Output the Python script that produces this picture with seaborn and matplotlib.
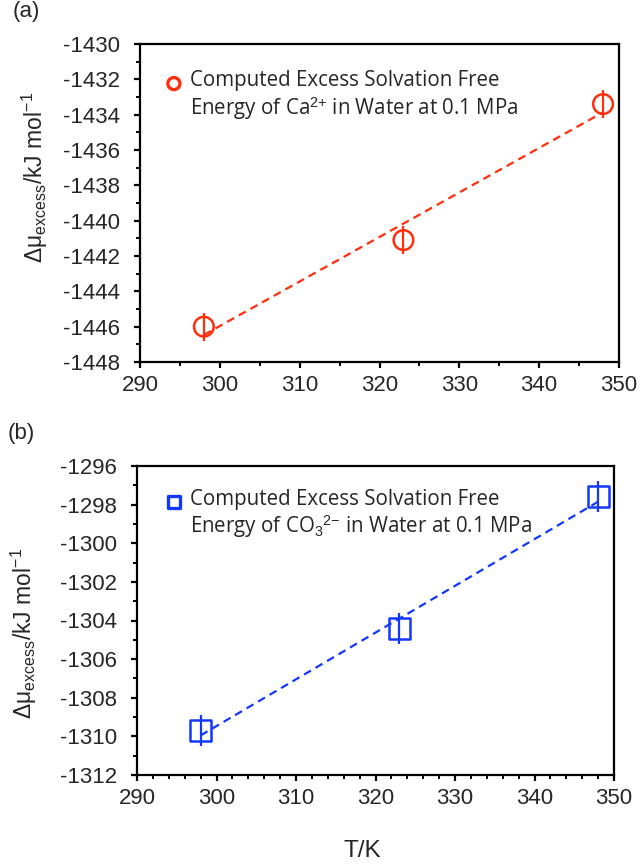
import numpy as np
import pandas as pd
import matplotlib
matplotlib.use("Agg")
import matplotlib.pyplot as plt
import seaborn as sns
from matplotlib.ticker import MultipleLocator
from matplotlib.legend_handler import HandlerPathCollection

# ---- data ----
temps = [298, 323, 348]
ca_mu = [-1446.0, -1441.1, -1433.4]
ca_err = [0.8, 0.8, 0.8]
co3_mu = [-1309.7, -1304.4, -1297.6]
co3_err = [0.8, 0.8, 0.8]

ca_label = "Computed Excess Solvation Free\nEnergy of Ca$^{2{+}}$ in Water at 0.1 MPa"
co3_label = "Computed Excess Solvation Free\nEnergy of CO$_3$$^{2{-}}$ in Water at 0.1 MPa"
ylabel = "\u0394\u03bc$_{\\mathrm{excess}}$/kJ mol$^{\\mathrm{-1}}$"
xlabel = "T/K"

red = "#FF2E0C"
blue = "#1238FF"

sns.set_theme(style="ticks")
plt.rcParams["font.family"] = ["Liberation Sans", "DejaVu Sans"]
plt.rcParams["axes.unicode_minus"] = False
plt.rcParams["mathtext.fontset"] = "custom"
plt.rcParams["mathtext.rm"] = "Liberation Sans"
plt.rcParams["mathtext.it"] = "Liberation Sans"
plt.rcParams["mathtext.bf"] = "Liberation Sans:bold"

fig = plt.figure(figsize=(6.41, 8.65), dpi=100)
ax1 = fig.add_axes([140/641, 1-362/865, 479/641, 318/865])
ax2 = fig.add_axes([137/641, 1-775/865, 477/641, 309/865])


def panel(ax, mu, err, color, marker, ms, label, ylim, yminor, xminor, legpos, ylab):
    df = pd.DataFrame({"T": temps, "mu": mu})
    sns.regplot(data=df, x="T", y="mu", ax=ax, ci=None, scatter=False, color=color,
                line_kws=dict(ls=(0, (3.6, 2.4)), lw=1.6))
    ax.errorbar(temps, mu, yerr=err, fmt="none", ecolor=color, elinewidth=1.6, capsize=0, zorder=3)
    sns.scatterplot(data=df, x="T", y="mu", ax=ax, marker=marker, s=ms, facecolor="none",
                    edgecolor=color, linewidth=1.8, zorder=4, legend=False)
    h = ax.scatter([], [], marker=marker, s=75, facecolor="none", edgecolor=color, linewidth=2.4)
    ax.legend([h], [label], loc="upper left", bbox_to_anchor=legpos, frameon=False,
              handletextpad=0.2, borderpad=0, borderaxespad=0, handlelength=1.2,
              handler_map={h: HandlerPathCollection(yoffsets=[1.42])},
              prop=dict(family="Open Sans", size=14.8))
    ax.set_xlim(290, 350)
    ax.set_ylim(*ylim)
    ax.xaxis.set_major_locator(MultipleLocator(10))
    ax.xaxis.set_minor_locator(MultipleLocator(xminor))
    ax.yaxis.set_major_locator(MultipleLocator(2))
    ax.yaxis.set_minor_locator(MultipleLocator(yminor))
    ax.tick_params(which="major", length=4.5, width=1.6, labelsize=16, direction="out", color="black")
    ax.tick_params(which="minor", length=3, width=1.4, direction="out", color="black")
    ax.tick_params(axis="y", which="major", pad=10)
    ax.tick_params(axis="x", which="major", pad=5)
    for s in ax.spines.values():
        s.set_linewidth(1.6)
        s.set_color("black")
        s.set_visible(True)
    ax.set_xlabel("")
    ax.set_ylabel(ylabel, fontsize=16.5)
    ax.yaxis.set_label_coords(*ylab)
    ax.grid(False)


panel(ax1, ca_mu, ca_err, red, "o", 200, ca_label, (-1448, -1430), 1, 5, (0.045, 0.918), (-0.188, 0.58))
panel(ax2, co3_mu, co3_err, blue, "s", 230, co3_label, (-1312, -1296), 1, 2, (0.051, 0.927), (-0.205, 0.46))
ax2.set_xlabel(xlabel, fontsize=17.5)
ax2.xaxis.set_label_coords(0.472, -0.21)

fig.text(13/641, 1-12/865, "(a)", fontsize=16, va="center", ha="left")
fig.text(8/641, 1-434/865, "(b)", fontsize=16, va="center", ha="left")

fig.savefig("out.png", dpi=100)
